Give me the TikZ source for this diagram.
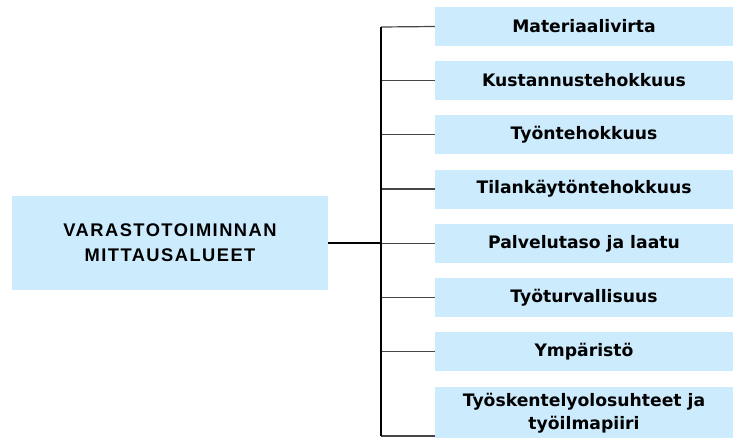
\documentclass[tikz,border=0pt]{standalone}
\usepackage{fontspec}
\setmainfont{DejaVu Sans}
\newfontfamily\rootfont[LetterSpace=8]{Liberation Sans}
\newfontfamily\leaffont{DejaVu Sans}
\definecolor{boxblue}{RGB}{204,235,253}
\definecolor{branchgray}{RGB}{70,70,70}
\tikzset{
  leafbox/.style={fill=boxblue, draw=none, minimum width=298pt, minimum height=39pt,
    inner sep=0pt, align=center, font=\leaffont\bfseries\fontsize{17.2}{22.5}\selectfont},
  rootbox/.style={fill=boxblue, draw=none, minimum width=316pt, minimum height=94pt,
    inner sep=0pt, align=center, font=\rootfont\bfseries\fontsize{18.3}{25}\selectfont},
  branch/.style={draw=branchgray, line width=1.2pt},
  trunk/.style={draw=black, line width=1.6pt},
  mainline/.style={draw=black, line width=2pt}
}
\begin{document}
\begin{tikzpicture}[x=1pt,y=-1pt]
\useasboundingbox (0,0) rectangle (733,437);
\begin{scope}
\clip (0,0) rectangle (733,437);
\node[rootbox] (root) at (170,243) {VARASTOTOIMINNAN\\MITTAUSALUEET};
\node[leafbox] (b1) at (584,26.5) {Materiaalivirta};
\node[leafbox] (b2) at (584,80.5) {Kustannustehokkuus};
\node[leafbox] (b3) at (584,134.5) {Työntehokkuus};
\node[leafbox] (b4) at (584,189) {Tilankäytöntehokkuus};
\node[leafbox] (b5) at (584,243.5) {Palvelutaso ja laatu};
\node[leafbox] (b6) at (584,297.5) {Työturvallisuus};
\node[leafbox] (b7) at (584,351.5) {Ympäristö};
\node[leafbox, minimum height=52pt] (b8) at (584,413) {Työskentelyolosuhteet ja\\työilmapiiri};
\coordinate (jtop) at (381,27);
\coordinate (jmid) at (381,243);
\coordinate (jbot) at (381,436);
\coordinate (b8end) at (435,436);
\draw[branch] (jtop) -- (b1.west);
\draw[branch] (jtop |- b2.west) -- (b2.west);
\draw[branch] (jtop |- b3.west) -- (b3.west);
\draw[branch] (jtop |- b4.west) -- (b4.west);
\draw[branch] (jtop |- b5.west) -- (b5.west);
\draw[branch] (jtop |- b6.west) -- (b6.west);
\draw[branch] (jtop |- b7.west) -- (b7.west);
\draw[branch] (jbot) -- (b8end);
\draw[trunk] (jtop) -- (jbot);
\draw[mainline] (root.east) -- (jmid);
\end{scope}
\end{tikzpicture}
\end{document}
